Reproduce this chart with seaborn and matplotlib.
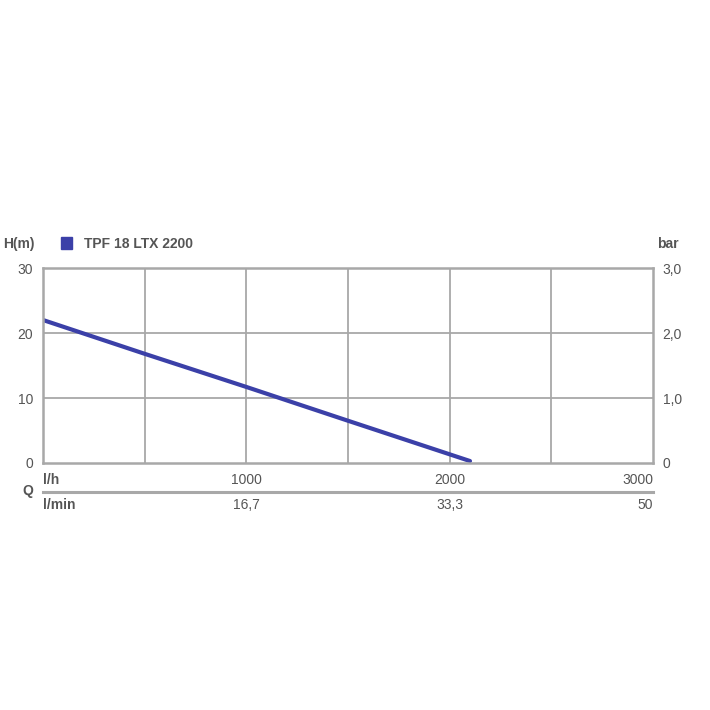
import matplotlib
matplotlib.use("Agg")
import matplotlib.pyplot as plt
import seaborn as sns
import pandas as pd

# pump curve
flow_lh = [0, 500, 1000, 1500, 2100]
head_m = [22.0, 16.8, 11.7, 6.5, 0.3]
series_name = "TPF 18 LTX 2200"

x_ticks = [0, 1000, 2000, 3000]
x_labels_lh = ["l/h", "1000", "2000", "3000"]
x_labels_lmin = ["l/min", "16,7", "33,3", "50"]
y_ticks = [0, 10, 20, 30]
bar_ticks = [0, 1, 2, 3]
bar_labels = ["0", "1,0", "2,0", "3,0"]

sns.set_style("white")
plt.rcParams["font.family"] = ["Liberation Sans Narrow", "Liberation Sans", "DejaVu Sans"]

txt = "#555555"
grid = "#a8a8a8"
blue = "#3b40a8"

df = pd.DataFrame({"flow": flow_lh, "head": head_m})

fig = plt.figure(figsize=(7.1, 7.1), dpi=100)
ax = fig.add_axes([0.0606, 0.3479, 0.8591, 0.2746])
sns.lineplot(data=df, x="flow", y="head", color=blue, linewidth=3.0, ax=ax, legend=False)

ax.set_xlim(0, 3000)
ax.set_ylim(0, 30)
for v in [500, 1000, 1500, 2000, 2500]:
    ax.axvline(v, color=grid, lw=1.3, zorder=0)
for v in [10, 20]:
    ax.axhline(v, color=grid, lw=1.3, zorder=0)
for s in ax.spines.values():
    s.set_color(grid)
    s.set_linewidth(1.8)

ax.set_xlabel("")
ax.set_ylabel("")
ax.set_yticks(y_ticks)
ax.set_yticklabels([str(v) for v in y_ticks])
ax.set_xticks(x_ticks)
ax.set_xticklabels(x_labels_lh)
ax.tick_params(axis="both", length=0, labelsize=10, labelcolor=txt)
ax.tick_params(axis="x", pad=7)
ax.tick_params(axis="y", pad=7)
xl = ax.get_xticklabels()
xl[0].set_ha("left")
xl[0].set_fontweight("bold")
xl[-1].set_ha("right")

# pressure axis on the right
axr = ax.twinx()
axr.set_ylim(0, 3)
axr.set_yticks(bar_ticks)
axr.set_yticklabels(bar_labels)
axr.tick_params(axis="y", length=0, labelsize=10, labelcolor=txt, pad=7)
for s in axr.spines.values():
    s.set_visible(False)

# second flow scale in l/min
sec = ax.secondary_xaxis(-0.15)
sec.set_xticks(x_ticks)
sec.set_xticklabels(x_labels_lmin)
sec.tick_params(axis="x", length=0, labelsize=10, labelcolor=txt, pad=4)
sec.spines["bottom"].set_color(grid)
sec.spines["bottom"].set_linewidth(2.2)
sl = sec.get_xticklabels()
sl[0].set_ha("left")
sl[0].set_fontweight("bold")
sl[-1].set_ha("right")

fig.text(0.039, 0.308, "Q", ha="center", va="center", fontsize=10, fontweight="bold", color=txt)
fig.text(0.005, 0.657, "H(m)", ha="left", va="center", fontsize=10, fontweight="bold", color=txt)
fig.text(0.925, 0.657, "bar", ha="left", va="center", fontsize=10, fontweight="bold", color=txt)
fig.patches.append(plt.Rectangle((0.0866, 0.650), 0.0155, 0.0155, transform=fig.transFigure,
                                 color=blue, figure=fig))
fig.text(0.118, 0.657, series_name, ha="left", va="center", fontsize=10, fontweight="bold", color=txt)

fig.savefig("out.png", dpi=100)
